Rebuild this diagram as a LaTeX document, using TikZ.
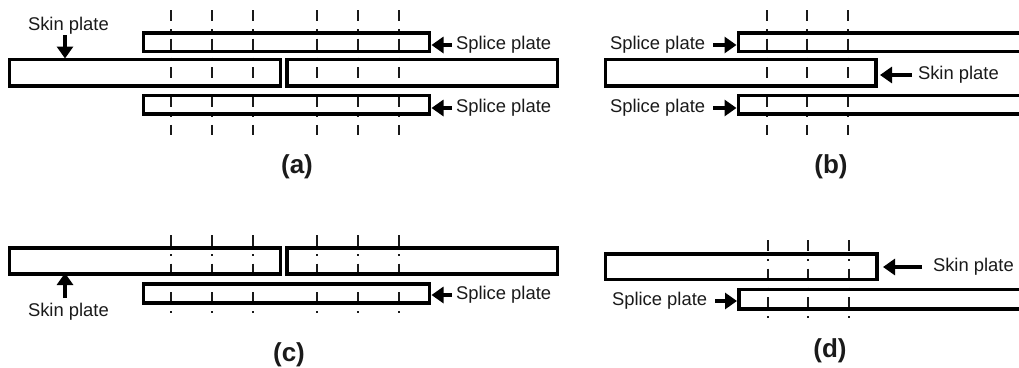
\documentclass[tikz,border=0pt]{standalone}
\usepackage{fontspec}
\setmainfont{Liberation Sans}
\usetikzlibrary{arrows.meta,fit}
\definecolor{ink}{HTML}{1A1A1A}
\tikzset{
  plate/.style={draw=black,line width=3.4pt,inner sep=0pt,outer sep=0pt,fit={#1}},
  lbl/.style={font=\fontsize{18.4}{19}\selectfont,text=ink,inner sep=0pt,outer sep=0pt},
  panelcap/.style={font=\bfseries\fontsize{26}{26}\selectfont,text=ink,inner sep=0pt},
  arr/.style={-{Triangle[width=16pt,length=12pt]},line width=3.4pt,black},
  datum/.style={draw=ink,line width=1.6pt,dash pattern=on 11pt off 8pt on 1.6pt off 8.1pt}
}
\begin{document}
\begin{tikzpicture}[x=1pt,y=-1pt]
\useasboundingbox (0,0) rectangle (1019,367);
\clip (0,0) rectangle (1019,367);
\fill[white] (0,0) rectangle (1019,367);

% (a)
\foreach \x in {171,212,253,317,358,399} \draw[datum] (\x,10) -- (\x,135);
\node[plate={(143.5,33)(429.5,51.5)}] (sa1) {};
\node[plate={(9.5,59.5)(280.5,86)}] (ka1) {};
\node[plate={(287,59.5)(557.5,86)}] (ka2) {};
\node[plate={(143.5,95.5)(429.5,114)}] (sa2) {};
\node[lbl,anchor=west] (tka) at (28,25.5) {Skin plate};
\coordinate (aka) at (65,35);
\draw[arr] (aka) -- ([yshift=1pt]aka |- ka1.north);
\node[lbl,anchor=west] (tsa1) at (456,45) {Splice plate};
\node[lbl,anchor=west] (tsa2) at (456,108) {Splice plate};
\draw[arr] ([xshift=-4pt]tsa1.west) -- ([xshift=2pt]sa1.east |- tsa1.west);
\draw[arr] ([xshift=-4pt]tsa2.west) -- ([xshift=2pt]sa2.east |- tsa2.west);
\node[panelcap] (capa) at (297,167) {(a)};

% (b)
\foreach \x in {767,807,848} \draw[datum] (\x,10) -- (\x,135);
\node[plate={(738.5,33)(1040,51.5)}] (sb1) {};
\node[plate={(605.5,59.5)(876,86)}] (kb) {};
\node[plate={(738.5,95.5)(1040,114)}] (sb2) {};
\node[lbl,anchor=west] (tsb1) at (610,45) {Splice plate};
\node[lbl,anchor=west] (tsb2) at (610,108) {Splice plate};
\node[lbl,anchor=west] (tkb) at (918,75) {Skin plate};
\draw[arr] ([xshift=8pt]tsb1.east) -- ([xshift=-2pt]sb1.west |- tsb1.east);
\draw[arr] ([xshift=8pt]tsb2.east) -- ([xshift=-2pt]sb2.west |- tsb2.east);
\draw[arr] ([xshift=-6pt]tkb.west) -- ([xshift=4pt]kb.east |- tkb.west);
\node[panelcap] (capb) at (831,167) {(b)};

% (c)
\foreach \x in {171,212,253,317,358,399} \draw[datum] (\x,235) -- (\x,317);
\node[plate={(9.5,248)(280.5,274)}] (kc1) {};
\node[plate={(287,248)(557.5,274)}] (kc2) {};
\node[plate={(143.5,284)(429.5,303)}] (sc) {};
\node[lbl,anchor=west] (tkc) at (28,312) {Skin plate};
\coordinate (akc) at (65,298);
\draw[arr] (akc) -- ([yshift=1pt]akc |- kc1.south);
\node[lbl,anchor=west] (tsc) at (456,295) {Splice plate};
\draw[arr] ([xshift=-4pt]tsc.west) -- ([xshift=2pt]sc.east |- tsc.west);
\node[panelcap] (capc) at (289,355) {(c)};

% (d)
\foreach \x in {768,808,849} \draw[datum] (\x,240) -- (\x,322);
\node[plate={(605.5,254)(877,279.5)}] (kd) {};
\node[plate={(739,289.5)(1040,309)}] (sd) {};
\node[lbl,anchor=west] (tkd) at (933,267) {Skin plate};
\node[lbl,anchor=west] (tsd) at (612,301) {Splice plate};
\draw[arr] ([xshift=-11pt]tkd.west) -- ([xshift=6pt]kd.east |- tkd.west);
\draw[arr] ([xshift=8pt]tsd.east) -- ([xshift=-2pt]sd.west |- tsd.east);
\node[panelcap] (capd) at (830,351) {(d)};
\end{tikzpicture}
\end{document}
